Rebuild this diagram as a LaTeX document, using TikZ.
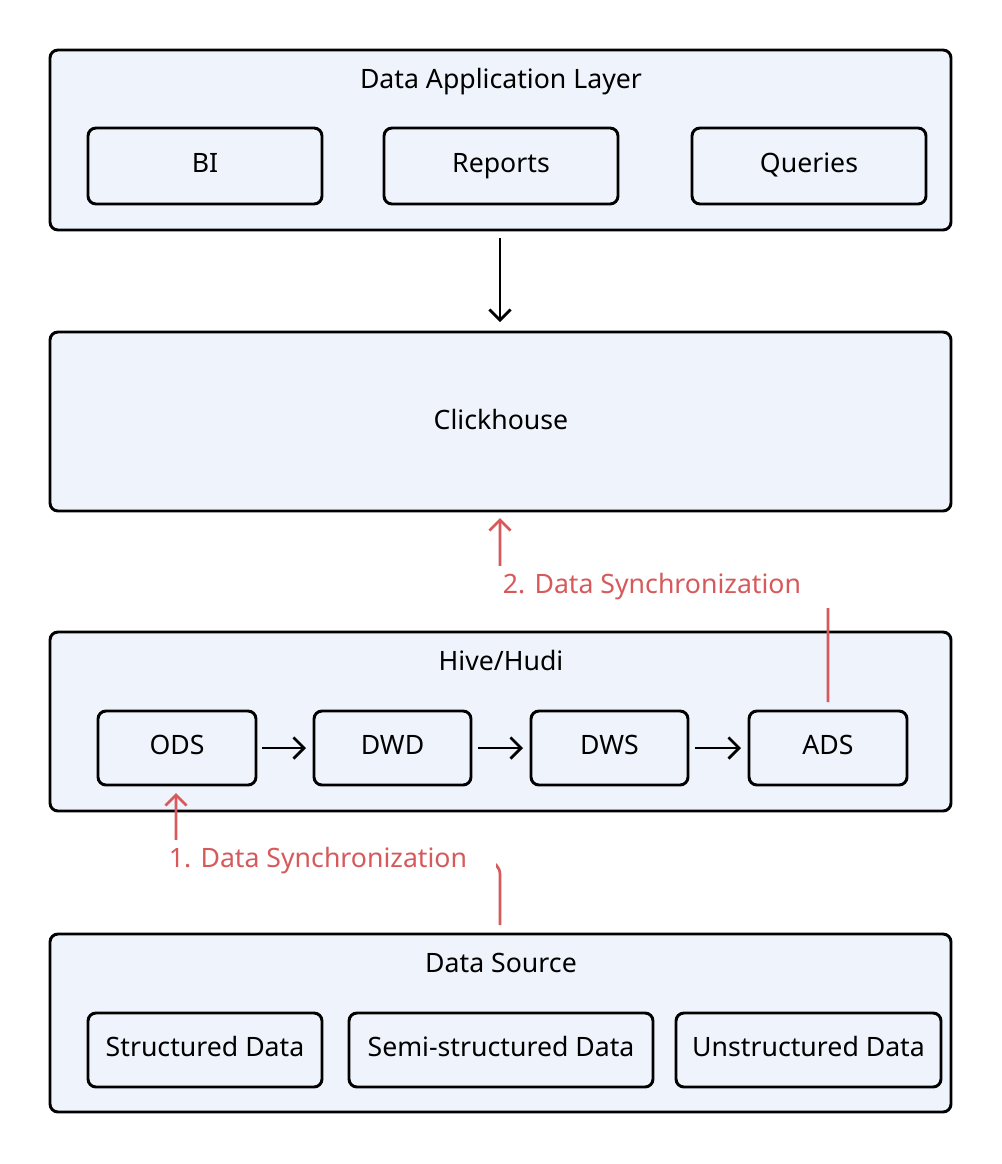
\documentclass[tikz,border=0pt]{standalone}
\usepackage{fontspec}
\setmainfont{Noto Sans}
\usetikzlibrary{arrows.meta}
\definecolor{layerfill}{HTML}{EFF4FC}
\definecolor{syncred}{HTML}{D65A5C}
\tikzset{every picture/.style={line width=0.75pt}}
\tikzset{
  layer/.style={draw, line width=2.2pt, rounded corners=6pt, fill=layerfill},
  item/.style={draw, line width=2.2pt, rounded corners=6pt, fill=layerfill, font=\fontsize{20}{24}\selectfont, text height=2.1ex, text depth=.3ex},
  lbl/.style={font=\fontsize{20}{24}\selectfont, text height=2.1ex, text depth=.3ex},
  synclbl/.style={font=\fontsize{20}{24}\selectfont, text=syncred, fill=white, inner xsep=22pt, inner ysep=6pt},
  flow/.style={-{Straight Barb[length=8pt,width=16pt]}, line width=2pt},
  sync/.style={-{Straight Barb[length=8pt,width=16pt]}, line width=2pt, draw=syncred, rounded corners=10pt}
}
\begin{document}
\begin{tikzpicture}[x=0.75pt,y=0.75pt,yscale=-1,xscale=1]
	\path[use as bounding box] (0,0) rectangle (1002,1164);

	% Layers
	\draw[layer] (50,50) rectangle (951,230);
	\draw[layer] (50,332) rectangle (951,511);
	\draw[layer] (50,632) rectangle (951,811);
	\draw[layer] (50,934) rectangle (951,1112);

	% Layer titles
	\node[lbl] (app) at (501,82) {Data Application Layer};
	\node[lbl] (ck) at (501,423) {Clickhouse};
	\node[lbl] (hive) at (501,664) {Hive/Hudi};
	\node[lbl] (src) at (501,966) {Data Source};
	\coordinate (appb) at (500,238);
	\coordinate (ckt) at (500,322);
	\coordinate (ckb) at (500,518);
	\coordinate (srct) at (500,925);

	% Application items
	\draw[item] (88,128) rectangle node (bi) {BI} (322,204);
	\draw[item] (384,128) rectangle node (rep) {Reports} (618,204);
	\draw[item] (692,128) rectangle node (qry) {Queries} (926,204);

	% Warehouse items
	\draw[item] (98,711) rectangle node (ods) {ODS} (256,785);
	\draw[item] (314,711) rectangle node (dwd) {DWD} (471,785);
	\draw[item] (531,711) rectangle node (dws) {DWS} (688,785);
	\draw[item] (749,711) rectangle node (ads) {ADS} (907,785);
	\coordinate (odsr) at (262,748); \coordinate (dwdl) at (306,748);
	\coordinate (dwdr) at (478,748); \coordinate (dwsl) at (523,748);
	\coordinate (dwsr) at (695,748); \coordinate (adsl) at (741,748);
	\coordinate (odsb) at (176,793); \coordinate (adst) at (828,702);

	% Source items
	\draw[item] (88,1013) rectangle node (sd) {Structured Data} (322,1087);
	\draw[item] (349,1013) rectangle node (ssd) {Semi-structured Data} (653,1087);
	\draw[item] (676,1013) rectangle node (usd) {Unstructured Data} (941,1087);

	% Arrows
	\draw[flow] (appb) -- (ckt);
	\draw[flow] (odsr) -- (dwdl);
	\draw[flow] (dwdr) -- (dwsl);
	\draw[flow] (dwsr) -- (adsl);

	% Synchronization
	\draw[sync] (srct) -- (500,861) -- (176,861) -- (odsb);
	\draw[sync] (adst) -- (828,587) -- (500,587) -- (ckb);
	\node[synclbl] (sync1) at (318,861) {1. Data Synchronization};
	\node[synclbl] (sync2) at (652,587) {2. Data Synchronization};

\end{tikzpicture}
\end{document}
